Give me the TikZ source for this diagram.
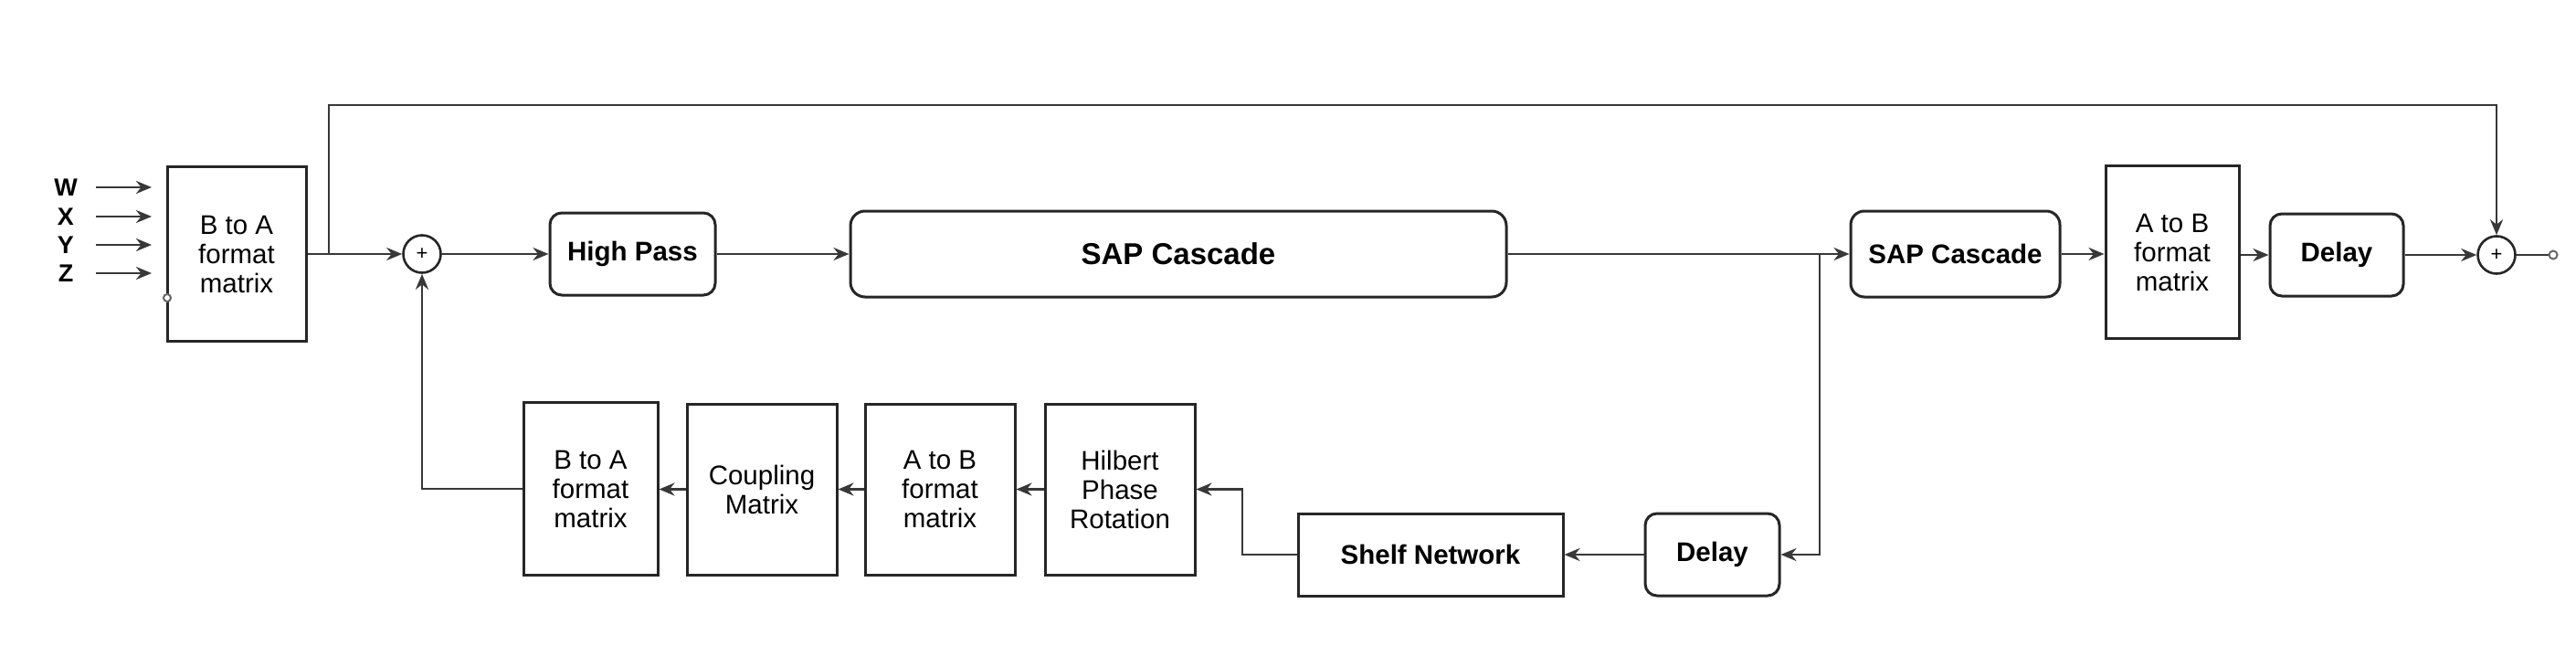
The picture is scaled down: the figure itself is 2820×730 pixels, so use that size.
\documentclass[tikz,border=0pt]{standalone}
\usepackage{fontspec}
\setmainfont{Liberation Sans}
\usetikzlibrary{arrows.meta}
\begin{document}
\begin{tikzpicture}[x=1pt,y=-1pt,
  line/.style={draw=black!78,line width=2.9pt},
  arr/.style={line,-{Stealth[length=17pt,width=14pt]}},
  blk/.style={draw=black!85,line width=3pt,rectangle,inner sep=0pt,align=center,
    font=\fontsize{29.5}{32}\selectfont},
  rblk/.style={draw=black!85,line width=3pt,rectangle,rounded corners=13pt,inner sep=0pt,
    font=\fontsize{29.5}{34}\selectfont\bfseries},
  sumnode/.style={draw=black!85,line width=2.6pt,circle,minimum size=41pt,inner sep=0pt,
    font=\fontsize{22}{22}\selectfont},
  inlbl/.style={font=\fontsize{27}{27}\selectfont\bfseries,inner sep=0pt},
  port/.style={draw=black!60,line width=2pt,circle,minimum size=9pt,inner sep=0pt,fill=white}]
\useasboundingbox[fill=white] (0,0) rectangle (2820,730);

% inputs
\node[inlbl] (W) at (72,205) {W};
\node[inlbl] (X) at (72,237) {X};
\node[inlbl] (Y) at (72,268) {Y};
\node[inlbl] (Z) at (72,299) {Z};
\coordinate (ws) at (105,205); \coordinate (we) at (166,205);
\coordinate (xs) at (105,237); \coordinate (xe) at (166,237);
\coordinate (ys) at (105,268); \coordinate (ye) at (166,268);
\coordinate (zs) at (105,299); \coordinate (ze) at (166,299);

% top row
\node[blk,minimum width=152pt,minimum height=191pt] (bta) at (259,278) {B to A\\format\\matrix};
\node[sumnode] (s1) at (462,278) {+};
\node[rblk,minimum width=181pt,minimum height=90pt] (hp) at (692.5,278) {High Pass};
\node[rblk,minimum width=718pt,minimum height=94pt,rounded corners=16pt,
  font=\fontsize{33}{36}\selectfont\bfseries] (sap) at (1290,278) {SAP Cascade};
\node[rblk,minimum width=229pt,minimum height=94pt,rounded corners=15pt] (saps) at (2140.5,278) {SAP Cascade};
\node[blk,minimum width=146pt,minimum height=188pt] (atb) at (2378,276) {A to B\\format\\matrix};
\node[rblk,minimum width=146pt,minimum height=90pt] (d1) at (2558,279) {Delay};
\node[sumnode] (s2) at (2733,279) {+};
\node[port] (out) at (2795,279) {};
\node[port,minimum size=8pt] (pin) at (183,326) {};

% bottom row
\node[blk,minimum width=147pt,minimum height=189pt] (bta2) at (646.5,535) {B to A\\format\\matrix};
\node[blk,minimum width=164pt,minimum height=187pt] (cm) at (834,535.5) {Coupling\\Matrix};
\node[blk,minimum width=164pt,minimum height=187pt] (atb2) at (1029,535.5) {A to B\\format\\matrix};
\node[blk,minimum width=164pt,minimum height=187pt] (hil) at (1226,535.5) {Hilbert\\Phase\\Rotation};
\node[blk,minimum width=290pt,minimum height=90pt,font=\fontsize{29.5}{34}\selectfont\bfseries] (shelf) at (1566,607) {Shelf Network};
\node[rblk,minimum width=147pt,minimum height=90pt] (d2) at (1874.5,607) {Delay};

\coordinate (br1) at (360,278);
\coordinate (top1) at (360,115);
\coordinate (top2) at (2733,115);
\coordinate (br2) at (1992,278);
\coordinate (br2b) at (1992,607);
\coordinate (fb1) at (1360,607);
\coordinate (fb2) at (1360,535.5);
\coordinate (fb3) at (462,535);

% input arrows
\draw[arr] (ws) -- (we);
\draw[arr] (xs) -- (xe);
\draw[arr] (ys) -- (ye);
\draw[arr] (zs) -- (ze);

% main path
\draw[arr] (bta.east) -- (s1.west);
\draw[arr] (s1.east) -- (hp.west);
\draw[arr] (hp.east) -- (sap.west);
\draw[arr] (sap.east) -- (saps.west);
\draw[arr] (saps.east) -- (atb.west |- saps.east);
\draw[arr] (atb.east |- d1) -- (d1.west);
\draw[arr] (d1.east) -- (s2.west);
\draw[line] (s2.east) -- (out.west);
\draw[arr] (br1) -- (top1) -- (top2) -- (s2.north);

% feedback path
\draw[arr] (br2) -- (br2b) -- (d2.east);
\draw[arr] (d2.west) -- (shelf.east);
\draw[arr] (shelf.west) -- (fb1) -- (fb2) -- (hil.east);
\draw[arr] (hil.west) -- (atb2.east);
\draw[arr] (atb2.west) -- (cm.east);
\draw[arr] (cm.west) -- (bta2.east |- cm.west);
\draw[arr] (bta2.west) -- (fb3) -- (s1.south);
\end{tikzpicture}
\end{document}
